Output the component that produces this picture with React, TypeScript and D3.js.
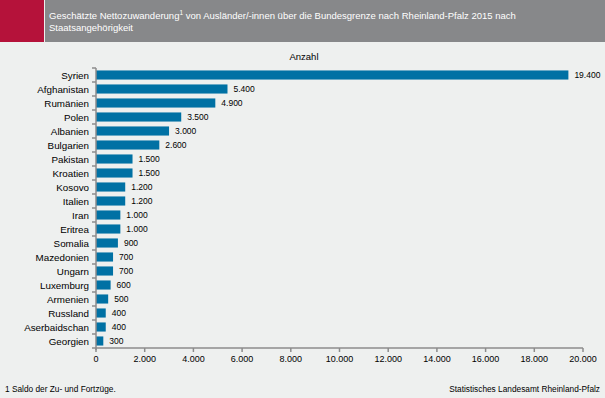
import React from 'react';
import * as d3 from 'd3';

const countries = [
  'Syrien', 'Afghanistan', 'Rumänien', 'Polen', 'Albanien', 'Bulgarien', 'Pakistan',
  'Kroatien', 'Kosovo', 'Italien', 'Iran', 'Eritrea', 'Somalia', 'Mazedonien',
  'Ungarn', 'Luxemburg', 'Armenien', 'Russland', 'Aserbaidschan', 'Georgien',
];
const values = [
  19400, 5400, 4900, 3500, 3000, 2600, 1500, 1500, 1200, 1200, 1000, 1000, 900, 700,
  700, 600, 500, 400, 400, 300,
];
const xTicks = [0, 2000, 4000, 6000, 8000, 10000, 12000, 14000, 16000, 18000, 20000];

const W = 605;
const H = 398;
const font = '"Liberation Sans", Arial, sans-serif';
const fmt = (v: number) => d3.format(',')(v).replace(/,/g, '.');

export default function App() {
  const x = d3.scaleLinear().domain([0, 20000]).range([96, 583]);
  const y = d3.scaleBand().domain(countries).range([68, 348]).paddingInner(0.35).paddingOuter(0.175);
  const step = y.step();
  const axisColor = '#8c8c8c';

  return (
    <svg width={W} height={H} style={{ position: 'absolute', left: 0, top: 0, fontFamily: font }}>
      <rect width={W} height={H} fill="#eef0ef" />
      <rect x={0} y={0} width={44} height={42} fill="#b5123a" />
      <rect x={45} y={0} width={W - 45} height={42} fill="#87888a" />
      <text x={49} y={19} fontSize={9.5} fill="#ffffff">
        Geschätzte Nettozuwanderung
        <tspan fontSize={6.5} dy={-4}>1</tspan>
        <tspan dy={4}> von Ausländer/-innen über die Bundesgrenze nach Rheinland-Pfalz 2015 nach</tspan>
      </text>
      <text x={49} y={31} fontSize={9.5} fill="#ffffff">Staatsangehörigkeit</text>

      <text x={304} y={60} fontSize={9.5} textAnchor="middle" fill="#000">Anzahl</text>

      {countries.map((c, i) => (
        <g key={c}>
          <rect x={x(0)} y={y(c)!} width={x(values[i]) - x(0)} height={y.bandwidth()} fill="#0071a4" />
          <text x={x(values[i]) + 6} y={y(c)! + y.bandwidth() / 2 + 3} fontSize={8.5} fill="#000">
            {fmt(values[i])}
          </text>
          <text x={89} y={y(c)! + y.bandwidth() / 2 + 3.5} fontSize={9.8} textAnchor="end" fill="#000">
            {c}
          </text>
        </g>
      ))}

      {/* y axis */}
      <line x1={x(0)} x2={x(0)} y1={68} y2={350} stroke={axisColor} strokeWidth={1.5} />
      {d3.range(countries.length + 1).map((i) => (
        <line key={i} x1={92} x2={x(0)} y1={68 + i * step} y2={68 + i * step} stroke={axisColor} strokeWidth={1.5} />
      ))}

      {/* x axis */}
      <line x1={x(0)} x2={x(20000)} y1={348} y2={348} stroke={axisColor} strokeWidth={1.5} />
      {xTicks.map((t) => (
        <g key={t}>
          <line x1={x(t)} x2={x(t)} y1={348} y2={352} stroke={axisColor} strokeWidth={1.5} />
          <text x={x(t)} y={362} fontSize={9} textAnchor="middle" fill="#000">{fmt(t)}</text>
        </g>
      ))}

      <text x={5} y={392} fontSize={8.3} fill="#000">1 Saldo der Zu- und Fortzüge.</text>
      <text x={600} y={392} fontSize={8.3} textAnchor="end" fill="#000">Statistisches Landesamt Rheinland-Pfalz</text>
    </svg>
  );
}
